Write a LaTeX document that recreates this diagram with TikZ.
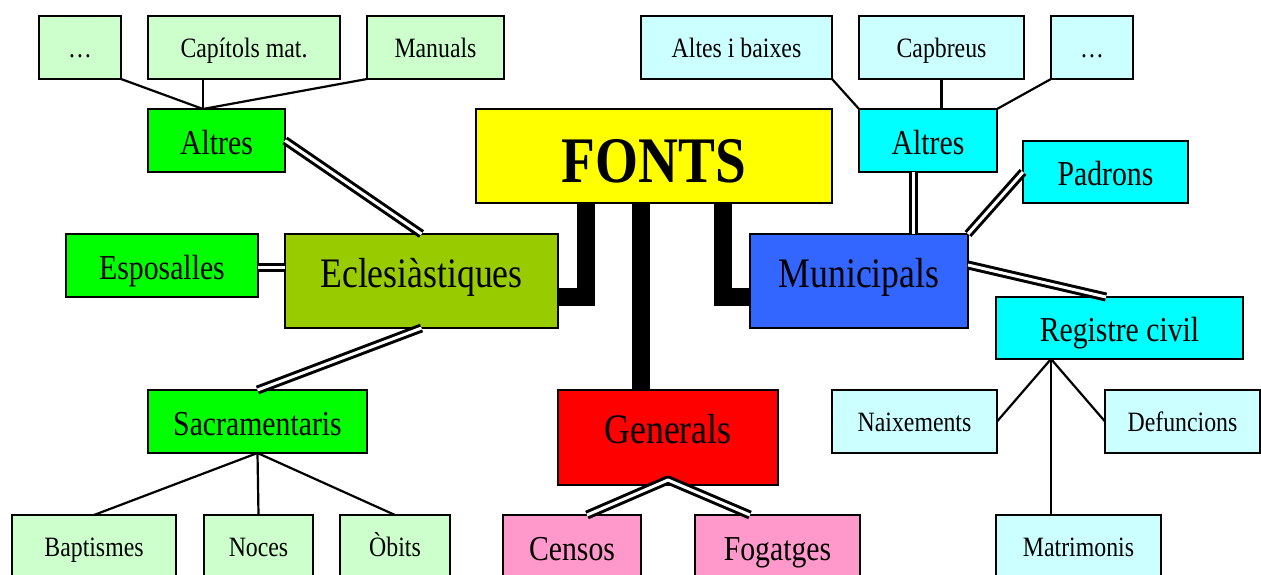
\documentclass[tikz,border=0pt]{standalone}
\usepackage{fontspec}
\setmainfont{Liberation Serif}[FakeStretch=0.85]
\definecolor{lgreen}{HTML}{CCFFCC}
\definecolor{vgreen}{HTML}{00FF00}
\definecolor{olive}{HTML}{99CC00}
\definecolor{yel}{HTML}{FFFF00}
\definecolor{blu}{HTML}{3366FF}
\definecolor{cya}{HTML}{00FFFF}
\definecolor{lcya}{HTML}{CCFFFF}
\definecolor{redd}{HTML}{FF0000}
\definecolor{pnk}{HTML}{FF99CC}
\begin{document}
\begin{tikzpicture}[x=1pt,y=-1pt,
  box/.style={draw, line width=2.4pt, inner sep=0pt, outer sep=0pt, align=center},
  sm/.style={box, font=\fontsize{28}{30}\selectfont, text height=19pt, text depth=0pt, minimum height=63pt},
  md/.style={box, font=\fontsize{35}{38}\selectfont, text height=27pt, text depth=0pt, minimum height=63pt},
  lg/.style={box, font=\fontsize{42}{44}\selectfont, text height=12pt, text depth=0pt, minimum height=94pt},
  thinline/.style={line width=2.2pt},
  dbl/.style={line width=3pt, double=white, double distance=3pt, line cap=butt, line join=bevel},
  thickbar/.style={line width=18pt, line cap=butt, line join=miter}]
\fill[white] (0,0) rectangle (1261,574);
\useasboundingbox (0,0) rectangle (1261,574);
% left top
\node[sm, fill=lgreen, minimum width=82pt] (dotsL) at (80,47.5) {…};
\node[sm, fill=lgreen, minimum width=192pt] (capL) at (244,47.5) {Capítols mat.};
\node[sm, fill=lgreen, minimum width=137pt] (manL) at (435.5,47.5) {Manuals};
\node[md, fill=vgreen, minimum width=137pt] (altL) at (216.5,140.5) {Altres};
\node[box, fill=yel, minimum width=356pt, minimum height=94pt, font=\fontsize{65}{68}\selectfont\bfseries, text height=52pt, text depth=0pt] (fonts) at (654,156) {FONTS};
\node[md, fill=vgreen, minimum width=192pt] (esp) at (162,265.5) {Esposalles};
\node[lg, fill=olive, minimum width=273pt] (ecl) at (421.5,281) {Eclesiàstiques};
\node[md, fill=vgreen, minimum width=219pt] (sacr) at (257.5,421.5) {Sacramentaris};
\node[sm, fill=lgreen, minimum width=164pt] (bapt) at (94,546.5) {Baptismes};
\node[sm, fill=lgreen, minimum width=109pt] (noces) at (258.5,546.5) {Noces};
\node[sm, fill=lgreen, minimum width=110pt] (obits) at (395,546.5) {Òbits};
% centre
\node[lg, fill=redd, minimum width=220pt, minimum height=95pt] (gen) at (668,437.5) {Generals};
\node[md, fill=pnk, minimum width=138pt] (cens) at (572,546.5) {Censos};
\node[md, fill=pnk, minimum width=165pt] (fog) at (777.5,546.5) {Fogatges};
% right
\node[sm, fill=lcya, minimum width=191pt] (altes) at (736.5,47.5) {Altes i baixes};
\node[sm, fill=lcya, minimum width=165pt] (capb) at (941.5,47.5) {Capbreus};
\node[sm, fill=lcya, minimum width=82pt] (dotsR) at (1092,47.5) {…};
\node[md, fill=cya, minimum width=138pt] (altR) at (928,140.5) {Altres};
\node[md, fill=cya, minimum width=165pt, minimum height=62pt] (pad) at (1105.5,172) {Padrons};
\node[lg, fill=blu, minimum width=218pt] (mun) at (859,281) {Municipals};
\node[md, fill=cya, minimum width=247pt, minimum height=62pt] (reg) at (1119.5,328) {Registre civil};
\node[sm, fill=lcya, minimum width=165pt] (naix) at (914.5,421.5) {Naixements};
\node[sm, fill=lcya, minimum width=155pt] (defu) at (1182.5,421.5) {Defuncions};
\node[sm, fill=lcya, minimum width=165pt] (matr) at (1078.5,546.5) {Matrimonis};
% thin connectors
\coordinate (apL) at ([xshift=-13.5pt]altL.north);
\draw[thinline] (dotsL.south east) -- (apL);
\draw[thinline] (apL |- capL.south) -- (apL);
\draw[thinline] (manL.south west) -- (apL);
\draw[thinline] (altes.south east) -- (altR.north west);
\draw[thinline] (capb.south) -- (capb.south |- altR.north);
\draw[thinline] (dotsR.south west) -- (altR.north east);
\draw[thinline] (sacr.south) -- (bapt.north);
\draw[thinline] (sacr.south) -- (noces.north);
\draw[thinline] (sacr.south) -- (obits.north);
\coordinate (apR) at ([xshift=-68.5pt]reg.south);
\draw[thinline] (apR) -- (naix.east);
\draw[thinline] (apR) -- (defu.west);
\draw[thinline] (apR) -- (apR |- matr.north);
% double connectors
\draw[dbl] (altL.east) -- (ecl.north);
\coordinate (eE) at ([yshift=-1.5pt]esp.east);
\draw[dbl] (eE) -- (eE -| ecl.west);
\draw[dbl] (ecl.south) -- (sacr.north);
\coordinate (aR) at ([xshift=-15pt]altR.south);
\draw[dbl] (aR) -- (aR |- mun.north);
\draw[dbl] (mun.north east) -- (pad.west);
\draw[dbl] ([yshift=16pt]mun.east) -- ([xshift=-13.5pt]reg.north);
\coordinate (gB) at ([yshift=5pt]gen.south);
\draw[dbl] ([xshift=15pt]cens.north) -- (gB) -- ([xshift=-27.5pt]fog.north);
% thick bars
\draw[thickbar] ([xshift=-68pt]fonts.south) |- ([yshift=-16pt]ecl.east);
\coordinate (mB) at ([xshift=-13pt]fonts.south);
\draw[thickbar] (mB) -- (mB |- gen.north);
\draw[thickbar] ([xshift=69pt]fonts.south) |- ([yshift=-16pt]mun.west);
\end{tikzpicture}
\end{document}
